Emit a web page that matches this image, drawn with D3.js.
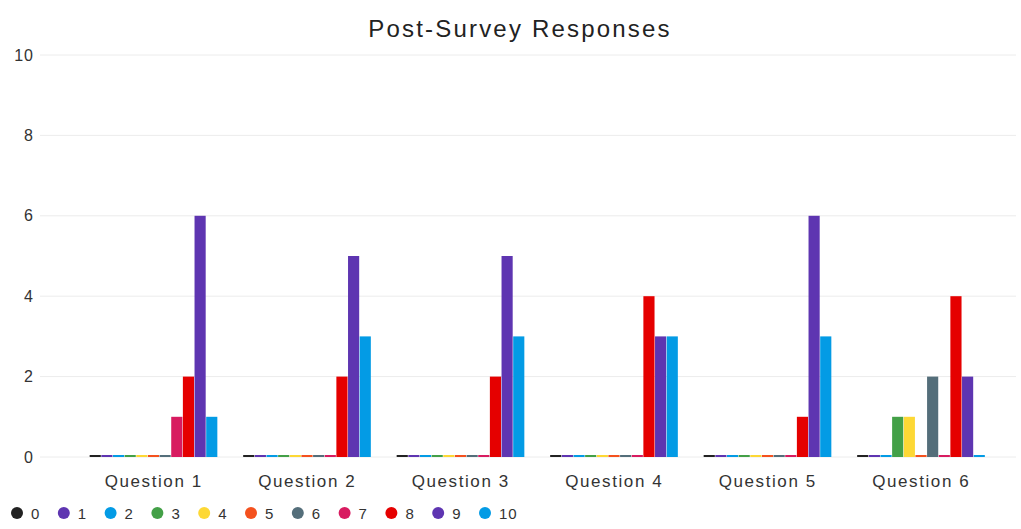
<!DOCTYPE html>
<html>
<head>
<meta charset="utf-8">
<script src="https://cdn.jsdelivr.net/npm/d3@7"></script>
<style>
  body { margin: 0; background: #fff; }
  text { font-family: "Liberation Sans", Arial, sans-serif; }
</style>
</head>
<body>
<script>
const w = 1021; // width
const h = 529;  // height

const questions = ["Question 1", "Question 2", "Question 3", "Question 4", "Question 5", "Question 6"];
const scores = ["0", "1", "2", "3", "4", "5", "6", "7", "8", "9", "10"];
const colors = ["#222222", "#5e35b1", "#039be5", "#43a047", "#fdd835", "#f4511e",
                "#546e7a", "#d81b60", "#e50000", "#5e35b1", "#039be5"];
// responses per question, one value per score 0..10
const q1 = [0, 0, 0, 0, 0, 0, 0, 1, 2, 6, 1];
const q2 = [0, 0, 0, 0, 0, 0, 0, 0, 2, 5, 3];
const q3 = [0, 0, 0, 0, 0, 0, 0, 0, 2, 5, 3];
const q4 = [0, 0, 0, 0, 0, 0, 0, 0, 4, 3, 3];
const q5 = [0, 0, 0, 0, 0, 0, 0, 0, 1, 6, 3];
const q6 = [0, 0, 0, 1, 1, 0, 2, 0, 4, 2, 0];
const yTicks = [0, 2, 4, 6, 8, 10];

const rows = [q1, q2, q3, q4, q5, q6];

let svg = d3.select("body")
    .append("svg")
    .attr("width", w)
    .attr("height", h);

// scales
let x = d3.scaleBand()
    .domain(questions)
    .range([77, 998])
    .paddingInner(0.165)
    .paddingOuter(0.0825);

let xi = d3.scaleBand()
    .domain(scores)
    .range([0, x.bandwidth()]);

let y = d3.scaleLinear()
    .domain([0, 10])
    .range([457, 55]);

// grid
svg.append("g")
    .selectAll("line")
    .data(yTicks)
    .enter()
    .append("line")
    .attr("x1", 40)
    .attr("x2", 1016)
    .attr("y1", d => y(d))
    .attr("y2", d => y(d))
    .attr("stroke", "#ececec")
    .attr("stroke-width", 1);

// y axis
let yAxis = svg.append("g")
    .attr("transform", "translate(34,0)")
    .call(d3.axisLeft(y).tickValues(yTicks).tickSize(0).tickPadding(0));
yAxis.select(".domain").remove();
yAxis.selectAll("text")
    .attr("font-size", 16)
    .attr("letter-spacing", 1)
    .attr("fill", "#333");

// bars
let groups = svg.append("g")
    .selectAll("g")
    .data(rows)
    .enter()
    .append("g")
    .attr("transform", (d, i) => `translate(${x(questions[i])},0)`);

groups.selectAll("rect")
    .data(d => d.map((v, j) => ({ score: scores[j], value: v, color: colors[j] })))
    .enter()
    .append("rect")
    .attr("x", d => xi(d.score))
    .attr("width", xi.bandwidth() - 0.5)
    .attr("y", d => d.value === 0 ? y(0) - 2 : y(d.value))
    .attr("height", d => d.value === 0 ? 2 : y(0) - y(d.value))
    .attr("fill", d => d.color);

// x axis labels
let xAxis = svg.append("g")
    .attr("transform", "translate(0,475)")
    .call(d3.axisBottom(x).tickSize(0).tickPadding(0));
xAxis.select(".domain").remove();
xAxis.selectAll("text")
    .attr("font-size", 17)
    .attr("letter-spacing", 1.6)
    .attr("fill", "#333");

// title
svg.append("text")
    .attr("x", 520)
    .attr("y", 37)
    .attr("text-anchor", "middle")
    .attr("font-size", 24)
    .attr("letter-spacing", 2.2)
    .attr("fill", "#222")
    .text("Post-Survey Responses");

// legend
let legend = svg.append("g")
    .selectAll("g")
    .data(scores)
    .enter()
    .append("g")
    .attr("transform", (d, i) => `translate(${17 + i * 46.8},513)`);

legend.append("circle")
    .attr("r", 6)
    .attr("fill", (d, i) => colors[i]);

legend.append("text")
    .attr("x", 14)
    .attr("y", 5.5)
    .attr("font-size", 15)
    .attr("letter-spacing", 0.8)
    .attr("fill", "#333")
    .text(d => d);
</script>
</body>
</html>
